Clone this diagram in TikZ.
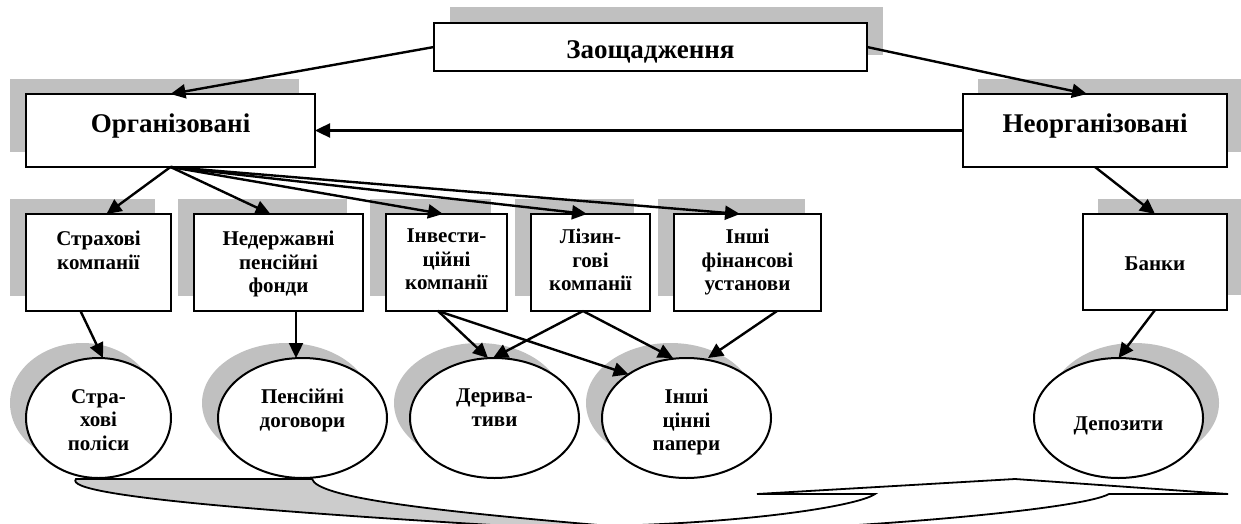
\documentclass[tikz,border=0pt]{standalone}
\usepackage{fontspec}
\setmainfont{Liberation Serif}
\usetikzlibrary{arrows.meta,shapes.geometric,backgrounds,calc}
\definecolor{shad}{HTML}{C0C0C0}
\definecolor{ribg}{HTML}{CCCCCC}
\begin{document}
\begin{tikzpicture}[x=1pt,y=-1pt,
  box/.style={draw, line width=2.4pt, fill=white, rectangle, inner sep=0pt, outer sep=0pt},
  ellbox/.style={draw, line width=2pt, fill=white, ellipse, inner sep=0pt, outer sep=0pt},
  arr/.style={line width=2.4pt, -{Triangle[length=15pt,width=14pt]}},
  txtA/.style={font=\bfseries\fontsize{27}{32}\selectfont, inner sep=0pt},
  txtB/.style={font=\bfseries\fontsize{21}{23.5}\selectfont, align=center, inner sep=0pt},
  ribline/.style={line width=1.8pt}
]
\useasboundingbox (0,0) rectangle (1241,524);

% ribbon at the bottom
\begin{scope}
  \clip (0,0) rectangle (620,540);
  \fill[ribg] (76,479) -- (312,479) .. controls (318,497) and (420,510) .. (610,526) -- (650,534) .. controls (300,515) and (60,497) .. (76,479);
\end{scope}
\draw[ribline] (76,479) -- (312,479) .. controls (318,497) and (420,510) .. (610,526) .. controls (760,522) and (860,505) .. (875,494) -- (757,494) -- (1015,479) -- (1228,494) -- (1109,494) .. controls (1080,510) and (850,530) .. (650,534) .. controls (300,515) and (60,497) .. cycle;

% boxes
\node[box, minimum width=433pt, minimum height=48pt] (zao) at (650.5,47) {};
\node[box, minimum width=289pt, minimum height=73pt] (org) at (170.5,130.5) {};
\node[box, minimum width=264pt, minimum height=73pt] (neo) at (1095,130.5) {};
\node[box, minimum width=145pt, minimum height=97pt] (sk) at (98.5,262.5) {};
\node[box, minimum width=169pt, minimum height=97pt] (npf) at (278.5,262.5) {};
\node[box, minimum width=121pt, minimum height=97pt] (ik) at (446.5,262.5) {};
\node[box, minimum width=119pt, minimum height=97pt] (lk) at (590.5,262.5) {};
\node[box, minimum width=147pt, minimum height=97pt] (ifu) at (747.5,262.5) {};
\node[box, minimum width=144pt, minimum height=96pt] (bank) at (1155,262) {};

% ellipses
\node[ellbox, minimum width=145pt, minimum height=120pt] (sp) at (98.5,418) {};
\node[ellbox, minimum width=169pt, minimum height=120pt] (pd) at (302.5,418) {};
\node[ellbox, minimum width=169pt, minimum height=120pt] (der) at (494.5,418) {};
\node[ellbox, minimum width=169pt, minimum height=120pt] (icp) at (686.5,418) {};
\node[ellbox, minimum width=169pt, minimum height=120pt] (dep) at (1118.5,418) {};

% shadows
\begin{scope}[on background layer]
  \fill[shad] ([shift={(16,-16)}]zao.south west) rectangle ([shift={(16,-16)}]zao.north east);
  \fill[shad] ([shift={(-16,-15)}]org.south west) rectangle ([shift={(-16,-15)}]org.north east);
  \fill[shad] ([shift={(15,-15)}]neo.south west) rectangle ([shift={(15,-15)}]neo.north east);
  \fill[shad] ([shift={(-16,-15)}]sk.south west) rectangle ([shift={(-16,-15)}]sk.north east);
  \fill[shad] ([shift={(-16,-15)}]npf.south west) rectangle ([shift={(-16,-15)}]npf.north east);
  \fill[shad] ([shift={(-16,-15)}]ik.south west) rectangle ([shift={(-16,-15)}]ik.north east);
  \fill[shad] ([shift={(-16,-15)}]lk.south west) rectangle ([shift={(-16,-15)}]lk.north east);
  \fill[shad] ([shift={(-16,-15)}]ifu.south west) rectangle ([shift={(-16,-15)}]ifu.north east);
  \fill[shad] ([shift={(15,-15)}]bank.south west) rectangle ([shift={(15,-15)}]bank.north east);
  \fill[shad] ([shift={(-16,-15)}]sp.center) ellipse [x radius=72.5pt, y radius=60pt];
  \fill[shad] ([shift={(-16,-15)}]pd.center) ellipse [x radius=84.5pt, y radius=60pt];
  \fill[shad] ([shift={(-16,-15)}]der.center) ellipse [x radius=84.5pt, y radius=60pt];
  \fill[shad] ([shift={(-16,-15)}]icp.center) ellipse [x radius=84.5pt, y radius=60pt];
  \fill[shad] ([shift={(16,-15)}]dep.center) ellipse [x radius=84.5pt, y radius=60pt];
\end{scope}

% texts
\node[txtA, anchor=base] (zao-t) at (650.5,59) {Заощадження};
\node[txtA, anchor=base] (org-t) at (170.5,132) {Організовані};
\node[txtA, anchor=base] (neo-t) at (1095,132) {Неорганізовані};
\node[txtB, anchor=north] (sk-t) at (98.5,231) {Страхові\\компанії};
\node[txtB, anchor=north] (npf-t) at (278.5,231) {Недержавні\\пенсійні\\фонди};
\node[txtB, anchor=north] (ik-t) at (446.5,229) {Інвести-\\ційні\\компанії};
\node[txtB, anchor=north] (lk-t) at (590.5,229) {Лізин-\\гові\\компанії};
\node[txtB, anchor=north] (ifu-t) at (747.5,229) {Інші\\фінансові\\установи};
\node[txtB, anchor=base] (bank-t) at (1155,270) {Банки};
\node[txtB, anchor=north] (sp-t) at (98.5,389) {Стра-\\хові\\поліси};
\node[txtB, anchor=north] (pd-t) at (302.5,389) {Пенсійні\\договори};
\node[txtB, anchor=north] (der-t) at (494.5,389) {Дерива-\\тиви};
\node[txtB, anchor=north] (icp-t) at (686.5,389) {Інші\\цінні\\папери};
\node[txtB, anchor=base] (dep-t) at (1118.5,430) {Депозити};

% arrows
\draw[arr] (zao.west) -- (org.north);
\draw[arr] (zao.east) -- ([xshift=-8pt]neo.north);
\draw[arr] (neo.west) -- (org.east);
\draw[arr] (org.south) -- ([xshift=8pt]sk.north);
\draw[arr] (org.south) -- ([xshift=-8pt]npf.north);
\draw[arr] (org.south) -- ([xshift=-3.5pt]ik.north);
\draw[arr] (org.south) -- ([xshift=-3.5pt]lk.north);
\draw[arr] (org.south) -- ([xshift=-7.5pt]ifu.north);
\draw[arr] (neo.south) -- (bank.north);
\draw[arr] ([xshift=-18pt]sk.south) -- ([xshift=4.5pt]sp.north);
\draw[arr] ([xshift=17.5pt]npf.south) -- ([xshift=-6.5pt]pd.north);
\draw[arr] ([xshift=-8.5pt]ik.south) -- ([xshift=-6.5pt]der.north);
\draw[arr] ([xshift=-8.5pt]ik.south) -- (icp.143);
\draw[arr] ([xshift=-7.5pt]lk.south) -- ([xshift=-1.5pt]der.north);
\draw[arr] ([xshift=-7.5pt]lk.south) -- ([xshift=-13.5pt]icp.north);
\draw[arr] ([xshift=29.5pt]ifu.south) -- ([xshift=21.5pt]icp.north);
\draw[arr] (bank.south) -- (dep.north);
\end{tikzpicture}
\end{document}
